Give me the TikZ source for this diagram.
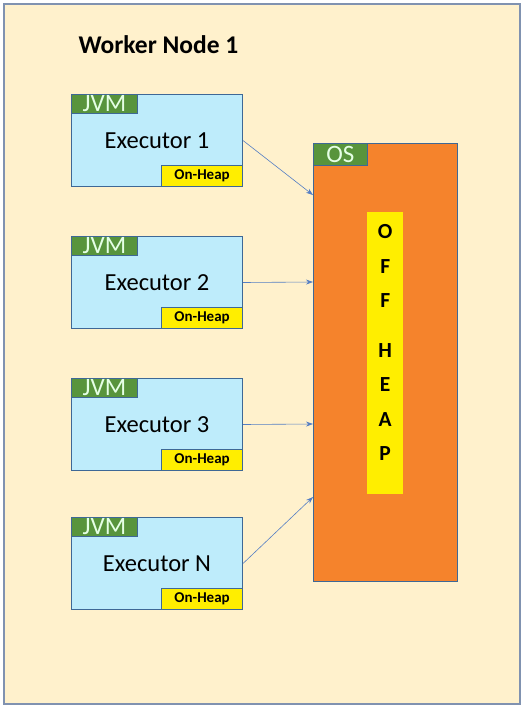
\documentclass[tikz,border=0pt]{standalone}
\usepackage{fontspec}
\setmainfont{Carlito}
\usetikzlibrary{arrows.meta, positioning, calc}
\definecolor{panelcream}{RGB}{255,241,204}
\definecolor{panelframe}{RGB}{128,146,176}
\definecolor{execblue}{RGB}{190,236,251}
\definecolor{execborder}{RGB}{62,104,150}
\definecolor{jvmgreen}{RGB}{88,148,60}
\definecolor{heapyellow}{RGB}{255,238,0}
\definecolor{osorange}{RGB}{245,131,44}
\definecolor{linkblue}{RGB}{84,126,196}

\tikzset{
  execbox/.style={draw=execborder, line width=1pt, fill=execblue, anchor=north west,
    minimum width=171pt, minimum height=92pt, inner sep=0pt, font=\fontsize{24.5}{26}\selectfont},
  tabbox/.style={draw=execborder, line width=0.8pt, fill=jvmgreen, text=white!90!green,
    inner sep=0pt, minimum height=19pt, font=\fontsize{25}{25}\selectfont},
  heapbox/.style={draw=execborder, line width=0.8pt, fill=heapyellow, anchor=south east,
    minimum width=81pt, minimum height=21pt, inner sep=0pt, font=\bfseries\fontsize{15}{15}\selectfont},
  link/.style={linkblue, line width=0.6pt, -{Stealth[length=7pt, width=5pt]}}
}

\begin{document}
\begin{tikzpicture}[x=1pt, y=-1pt]
  \useasboundingbox (0,0) rectangle (527,707);

  % Worker panel
  \draw[panelframe, line width=1.6pt, fill=panelcream] (4,4) rectangle (520,704);
  \node[font=\bfseries\fontsize{25.5}{26}\selectfont, anchor=west] (title) at (75,45) {Worker Node 1};

  % OS with off-heap region
  \node[draw=execborder, line width=1pt, fill=osorange, anchor=north west,
        minimum width=144pt, minimum height=438pt, inner sep=0pt] (os) at (313,143) {};
  \node[tabbox, anchor=north west, minimum width=54pt, minimum height=22pt] (ostab) at (os.north west) {OS};
  \node[fill=heapyellow, anchor=north west, minimum width=36pt, minimum height=282pt,
        inner sep=0pt] (offheap) at (367,212) {};
  \node[font=\bfseries\fontsize{21.5}{34.5}\selectfont, align=center, anchor=north] (offlbl)
    at ($(offheap.north)+(0,9)$) {O\\F\\F\\[15pt]H\\E\\A\\P};

  % Executors, each in its own JVM
  \foreach \i/\lbl/\y/\yin in {1/1/94/195, 2/2/236/282, 3/3/378/424, 4/N/517/497}{
    \node[execbox] (exec\i) at (71,\y) {Executor \lbl};
    \node[tabbox, anchor=north west, minimum width=66pt] (jvm\i) at (exec\i.north west) {JVM};
    \node[heapbox] (heap\i) at (exec\i.south east) {On-Heap};
    \coordinate (in\i) at (313,\yin);
    \draw[link] (exec\i.east) -- (in\i);
  }
\end{tikzpicture}
\end{document}
